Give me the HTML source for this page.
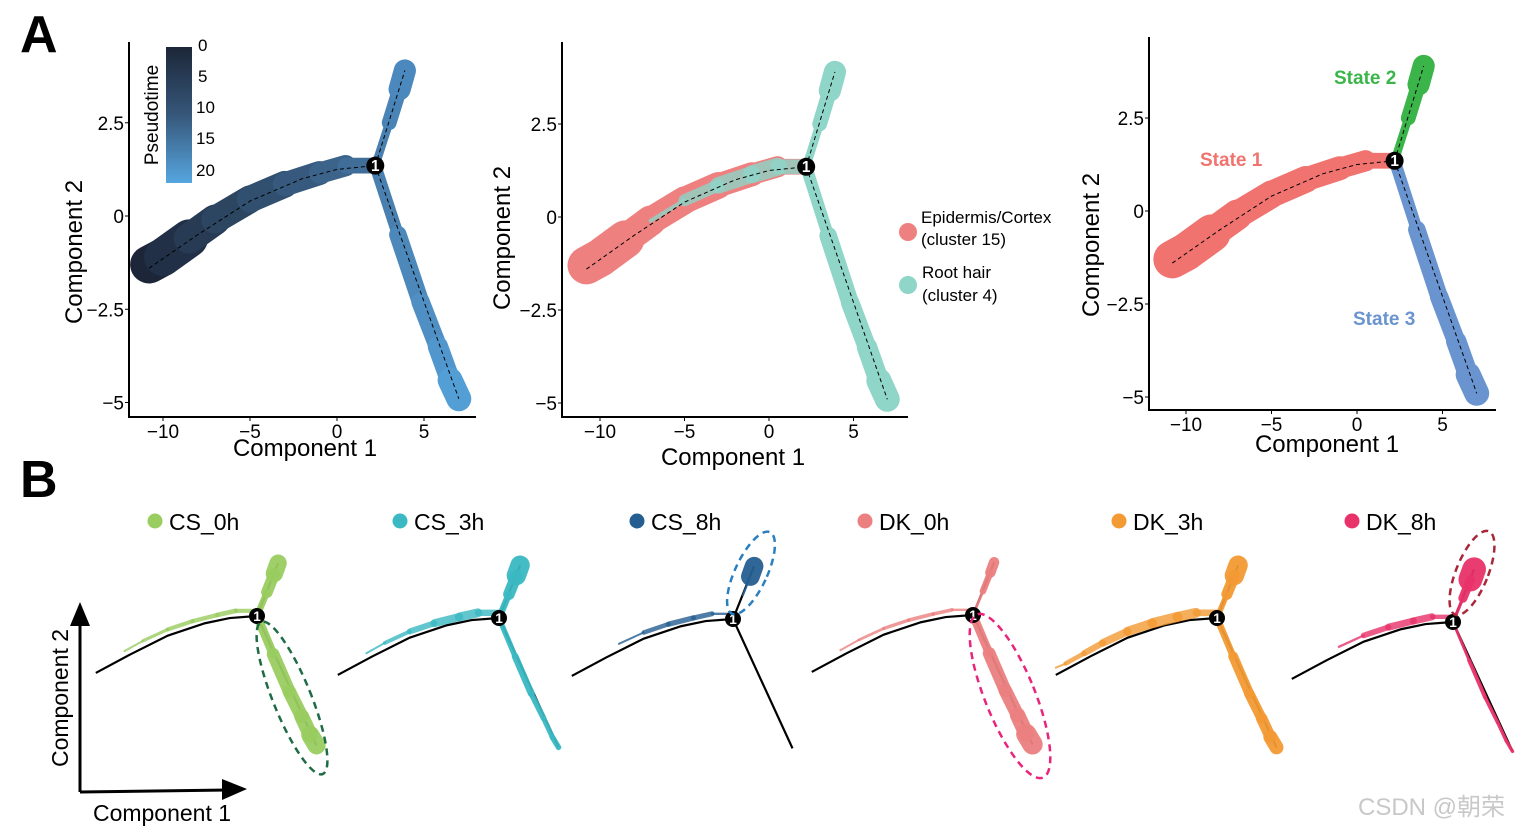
<!DOCTYPE html>
<html><head><meta charset="utf-8">
<style>
html,body{margin:0;padding:0;background:#fff;}
svg{display:block;font-family:"Liberation Sans",Arial,sans-serif;}
</style></head>
<body>
<svg id="fig" width="1532" height="832" viewBox="0 0 1532 832">
  <text x="20" y="52" font-size="52" font-weight="bold">A</text>
  <text x="20" y="497" font-size="52" font-weight="bold">B</text>
  <defs>
    <linearGradient id="ptgrad" x1="0" y1="0" x2="0" y2="1">
      <stop offset="0" stop-color="#1c2638"/><stop offset="0.5" stop-color="#36577a"/><stop offset="1" stop-color="#56a6e0"/>
    </linearGradient>
  </defs>
  <g id="a1"></g>
  <g id="a2"></g>
  <g id="a3"></g>
  <g id="b"></g>

  <g>
    <rect x="166" y="47" width="26" height="136" fill="url(#ptgrad)"/>
    <text x="198" y="51" font-size="17">0</text>
    <text x="198" y="82" font-size="17">5</text>
    <text x="196" y="113" font-size="17">10</text>
    <text x="196" y="144" font-size="17">15</text>
    <text x="196" y="176" font-size="17">20</text>
    <text transform="translate(158,115) rotate(-90)" text-anchor="middle" font-size="19">Pseudotime</text>
  </g>
  <g>
    <circle cx="908" cy="232" r="9" fill="#ee8080"/>
    <text x="921" y="223" font-size="17">Epidermis/Cortex</text>
    <text x="921" y="245" font-size="17">(cluster 15)</text>
    <circle cx="908" cy="285" r="9" fill="#8fd5c8"/>
    <text x="922" y="278" font-size="17">Root hair</text>
    <text x="922" y="301" font-size="17">(cluster 4)</text>
  </g>
  <text x="1334" y="84" font-size="19" font-weight="bold" fill="#3bb54a">State 2</text>
  <text x="1200" y="166" font-size="19" font-weight="bold" fill="#f0736f">State 1</text>
  <text x="1353" y="325" font-size="19" font-weight="bold" fill="#6a94cf">State 3</text>

  <g>
    <line x1="80" y1="792" x2="80" y2="620" stroke="#000" stroke-width="3"/>
    <polygon points="80,602 70,626 90,626" fill="#000"/>
    <line x1="80" y1="792" x2="228" y2="790" stroke="#000" stroke-width="3"/>
    <polygon points="247,789 222,779 222,800" fill="#000"/>
    <text transform="translate(68,698) rotate(-90)" text-anchor="middle" font-size="23">Component 2</text>
    <text x="162" y="821" text-anchor="middle" font-size="23">Component 1</text>
  </g>
  <text x="1358" y="815" font-size="24" fill="#c8c8c8" font-family="'Liberation Sans','Noto Sans CJK SC',sans-serif">CSDN @朝荣</text>
</svg>
<script>
const br1X = [-10.8,-10,-8.5,-7,-5,-3,-1,0.5,2.2];
const br1Y = [-1.3,-1.1,-0.6,-0.1,0.45,0.85,1.15,1.35,1.35];
const br1W = [0.9,1.15,0.9,0.75,0.75,0.7,0.6,0.55,0.3];
const br2X = [2.2,3.0,3.6,3.9];
const br2Y = [1.35,2.5,3.4,3.9];
const br2W = [0.15,0.3,0.5,0.7];
const br3X = [2.2,3.5,4.8,5.8,6.5,7.0];
const br3Y = [1.35,-0.5,-2.3,-3.5,-4.4,-4.9];
const br3W = [0.2,0.45,0.5,0.5,0.6,0.75];
const trajX = [-10.8,-8,-5,-2,0,2.2];
const trajY = [-1.4,-0.5,0.4,1.0,1.25,1.35];
const xTicks = [-10,-5,0,5];
const yTicks = [2.5,0,-2.5,-5];
const tickText = v => (v<0?'\u2212':'')+Math.abs(v);

const samples = ['CS_0h','CS_3h','CS_8h','DK_0h','DK_3h','DK_8h'];
const sampleColors = ['#9acd60','#3bb9c2','#255f91','#ec8080','#f39a34','#e8336a'];
const s1 = [[0,0,0,0.15,0.25,0.3,0.35,0.45,0.5],[0,0,0,0.2,0.3,0.5,0.7,0.8,0.6],[0,0,0,0,0.25,0.35,0.45,0.4,0],[0,0,0,0.15,0.2,0.25,0.3,0.3,0.2],[0,0.15,0.3,0.45,0.55,0.7,0.8,0.85,0.6],[0,0,0,0,0.3,0.45,0.6,0.6,0.3]];
const s2 = [[1,1,1,1],[1,1,1,1.2],[0,0,0.2,1.7],[0.3,0.5,0.6,0.6],[0.8,0.9,1,1.2],[0.3,0.6,0.9,1.7]];
const s3 = [[1.3,1.3,1.3,1.3,1.3,1.3],[0.8,0.8,0.6,0.5,0.4,0.4],[0,0,0,0,0,0],[1.2,1.3,1.3,1.3,1.4,1.5],[1,1,1,1,1,1],[0.5,0.4,0.4,0.3,0.3,0.2]];
const bNodeX = [257,499,733,973,1217,1453];
const bNodeY = [616,618,619,615,618,622];
const legendX = [155,400,637,865,1119,1352];

const NS='http://www.w3.org/2000/svg';
function mk(tag, attrs, parent){const e=document.createElementNS(NS,tag);for(const k in attrs)e.setAttribute(k,attrs[k]);parent.appendChild(e);return e;}
function mix(a,b,t){const p=h=>[1,3,5].map(i=>parseInt(h.substr(i,2),16));const A=p(a),B=p(b);return 'rgb('+A.map((v,i)=>Math.round(v+(B[i]-v)*t)).join(',')+')';}

function band(g,X,Y,W,M,sx,sy,colorFn,name,op,dy){
  const off=dy||0;
  for(let i=0;i<X.length-1;i++){
    const w=(W[i]*M[i]+W[i+1]*M[i+1])/2;
    if(w<=0.001) continue;
    const ln=mk('line',{x1:sx(X[i]),y1:sy(Y[i]+off),x2:sx(X[i+1]),y2:sy(Y[i+1]+off),stroke:colorFn(i),'stroke-width':Math.max(w*37,2),'stroke-linecap':'round',opacity:op===undefined?1:op},g);
    
    
  }
}
function trajLine(g,sx,sy,width,dash){
  let d='M'+sx(trajX[0])+','+sy(trajY[0]);
  for(let i=1;i<trajX.length;i++) d+=' L'+sx(trajX[i])+','+sy(trajY[i]);
  d+=' M'+sx(br2X[0])+','+sy(br2Y[0])+' L'+sx(br2X[3])+','+sy(br2Y[3]);
  d+=' M'+sx(br3X[0])+','+sy(br3Y[0])+' L'+sx(br3X[5])+','+sy(br3Y[5]);
  const p=mk('path',{d:d,fill:'none',stroke:'#000','stroke-width':width},g);
  if(dash) p.setAttribute('stroke-dasharray',dash);
  
  
}
function node(g,x,y,r){
  const c=mk('circle',{cx:x,cy:y,r:r,fill:'#000'},g);
  
  
  const t=mk('text',{x:x,y:y+r*0.6,'text-anchor':'middle','font-size':r*1.7,fill:'#fff','font-weight':'bold'},g);
  t.textContent='1';
}
function axes(g,cfg){
  const sx=v=>cfg.x0+v*cfg.kx, sy=v=>cfg.y0-v*cfg.ky;
  const a=mk('path',{d:`M${cfg.left},${cfg.top} V${cfg.bottom} H${cfg.right}`,fill:'none',stroke:'#000','stroke-width':2},g);
  
  
  xTicks.forEach(v=>{
    mk('line',{x1:sx(v),x2:sx(v),y1:cfg.bottom,y2:cfg.bottom+4,stroke:'#000'},g);
    const t=mk('text',{x:sx(v),y:cfg.bottom+21,'text-anchor':'middle','font-size':19},g);
    
    
    t.textContent=tickText(v);
  });
  yTicks.forEach(v=>{
    mk('line',{x1:cfg.left-4,x2:cfg.left,y1:sy(v),y2:sy(v),stroke:'#000'},g);
    const t=mk('text',{x:cfg.left-5,y:sy(v)+7,'text-anchor':'end','font-size':19},g);
    
    
    t.textContent=tickText(v);
  });
  const xt=mk('text',{x:cfg.xtx,y:cfg.xty,'text-anchor':'middle','font-size':24},g);
  
  
  xt.textContent='Component 1';
  const yt=mk('text',{transform:`translate(${cfg.ytx},${cfg.yty}) rotate(-90)`,'text-anchor':'middle','font-size':24},g);
  
  
  yt.textContent='Component 2';
  return [sx,sy];
}
const ones1=br1X.map(()=>1), ones2=br2X.map(()=>1), ones3=br3X.map(()=>1);

(function(){
  const g=document.getElementById('a1');
  const [sx,sy]=axes(g,{x0:337,kx:17.4,y0:216,ky:37.3,left:129,top:42,bottom:417,right:476,xtx:305,xty:456,ytx:82,yty:252});
  band(g,br1X,br1Y,br1W,ones1,sx,sy,i=>mix('#1c2638','#4678a6',i/8),'pseudotime-branch-1');
  band(g,br2X,br2Y,br2W,ones2,sx,sy,i=>mix('#4a80b0','#4b8cc4',i/3),'pseudotime-branch-2');
  band(g,br3X,br3Y,br3W,ones3,sx,sy,i=>mix('#4a80b0','#56a6e0',i/5),'pseudotime-branch-3');
  trajLine(g,sx,sy,1,'4 3');
  node(g,sx(2.2),sy(1.35),9);
})();
(function(){
  const g=document.getElementById('a2');
  const [sx,sy]=axes(g,{x0:769,kx:16.9,y0:217,ky:37.2,left:562,top:42,bottom:417,right:908,xtx:733,xty:465,ytx:510,yty:238});
  band(g,br1X,br1Y,br1W,ones1,sx,sy,()=>'#ee8080','epidermis-branch-1');
  band(g,br1X,br1Y,br1W,[0,0,0,0,0.3,0.6,0.8,0.9,1],sx,sy,()=>'#8fd5c8','roothair-branch-1',0.8);
  band(g,br2X,br2Y,br2W,ones2,sx,sy,()=>'#8fd5c8','roothair-branch-2');
  band(g,br3X,br3Y,br3W,ones3,sx,sy,()=>'#8fd5c8','roothair-branch-3');
  trajLine(g,sx,sy,1,'4 3');
  node(g,sx(2.2),sy(1.35),9);
})();
(function(){
  const g=document.getElementById('a3');
  const [sx,sy]=axes(g,{x0:1357,kx:17.1,y0:211,ky:37.2,left:1149,top:37,bottom:410,right:1496,xtx:1327,xty:452,ytx:1099,yty:245});
  band(g,br1X,br1Y,br1W,ones1,sx,sy,()=>'#f0736f','state-1-branch');
  band(g,br2X,br2Y,br2W,ones2,sx,sy,()=>'#3bb54a','state-2-branch');
  band(g,br3X,br3Y,br3W,ones3,sx,sy,()=>'#6a94cf','state-3-branch');
  trajLine(g,sx,sy,1,'4 3');
  node(g,sx(2.2),sy(1.35),9);
})();
(function(){
  const root=document.getElementById('b');
  const ell=[[292,698,19,82,-22,'#1e6b45'],null,[751,573,16,45,25,'#2a7fc0'],[1010,696,25,88,-22,'#e8257a'],null,[1472,573,16,45,22,'#a8283a']];
  samples.forEach((s,k)=>{
    const g=mk('g',{},root);
    
    
    const sx=v=>bNodeX[k]+(v-2.2)*12.4, sy=v=>bNodeY[k]-(v-1.35)*20.7;
    const c=sampleColors[k];
    const scl=20.7/37;
    const W1=br1W.map(w=>w*scl), W2=br2W.map(w=>w*scl*1.4), W3=br3W.map(w=>w*scl);
    trajLine(g,sx,sy,2.2);
    band(g,br1X,br1Y,W1,s1[k],sx,sy,()=>c,'sample-branch-1',0.8,0.25);
    band(g,br2X,br2Y,W2,s2[k],sx,sy,()=>c,'sample-branch-2',0.95);
    band(g,br3X,br3Y,W3,s3[k],sx,sy,()=>c,'sample-branch-3',0.95);
    node(g,bNodeX[k],bNodeY[k],8);
    const dot=mk('circle',{cx:legendX[k],cy:521,r:7.5,fill:c},g);
    
    
    const t=mk('text',{x:legendX[k]+14,y:530,'font-size':23},g);
    
    
    t.textContent=s;
    if(ell[k]){
      const e=ell[k];
      const el=mk('ellipse',{cx:e[0],cy:e[1],rx:e[2],ry:e[3],transform:`rotate(${e[4]} ${e[0]} ${e[1]})`,fill:'none',stroke:e[5],'stroke-width':2.5,'stroke-dasharray':'7 5'},g);
      
      
    }
  });
})();
</script>
</body></html>
